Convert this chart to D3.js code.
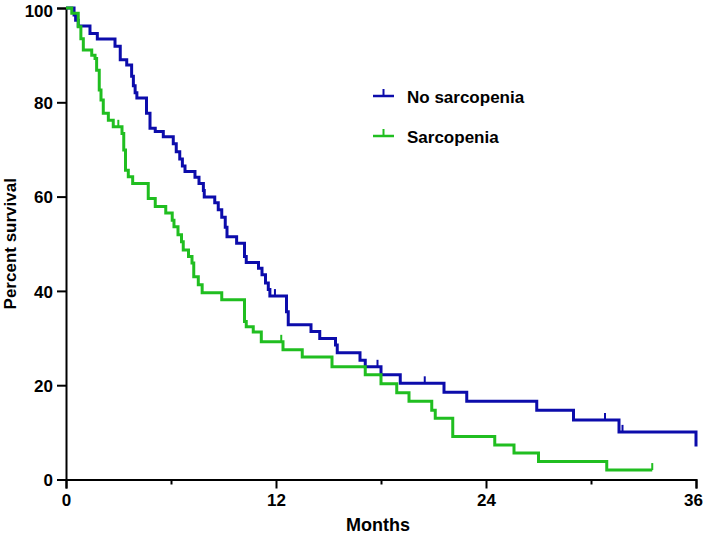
<!DOCTYPE html>
<html>
<head>
<meta charset="utf-8">
<script src="https://cdn.jsdelivr.net/npm/d3@7.9.0/dist/d3.min.js"></script>
<style>
  body { margin: 0; background: #fff; }
  svg { display: block; }
  text { font-family: "Liberation Sans", Arial, sans-serif; font-weight: bold; fill: #000; }
</style>
</head>
<body>
<svg id="chart" width="704" height="537"></svg>
<script>
// Kaplan-Meier steps: [month, percent surviving after the drop]
const noSarcSteps = [
  [0, 100], [0.46, 98.5], [0.55, 97.4], [0.7, 96.2], [1.37, 94.6], [1.79, 93.4],
  [2.8, 91.9], [3.1, 89], [3.47, 87.9], [3.75, 85.5], [3.85, 83.5], [3.95, 82],
  [4.05, 80.9], [4.6, 77.7], [4.8, 74.5], [5.1, 73.8], [5.56, 72.7], [6.13, 71.2],
  [6.3, 69.5], [6.5, 68.0], [6.65, 66.5], [6.8, 65.3], [7.37, 64.1], [7.6, 62.8],
  [7.85, 61.3], [7.9, 59.9], [8.5, 58.7], [8.7, 57.2], [8.9, 55.6], [9.1, 53.5],
  [9.2, 51.5], [9.75, 50.1], [10.2, 47.3], [10.3, 46.0], [11.0, 44.8], [11.2, 43.4],
  [11.4, 41.7], [11.56, 40.3], [11.65, 38.9], [12.6, 35.6], [12.7, 32.8], [14.0, 31.4],
  [14.5, 29.9], [15.4, 28.5], [15.5, 26.9], [16.8, 25.3], [17.1, 23.9], [18.0, 22.2],
  [19.1, 20.4], [21.6, 18.5], [22.9, 16.6], [26.9, 14.7], [29.0, 12.6], [31.6, 10.1],
  [36, 7.0]
];
const noSarcCensored = [[11.94, 38.9], [17.8, 23.9], [20.5, 20.4], [30.8, 12.6], [31.8, 10.1]];

const sarcSteps = [
  [0, 100], [0.33, 98.9], [0.7, 96], [0.85, 93.5], [0.99, 91.1], [1.47, 90.0],
  [1.66, 89.3], [1.75, 86.8], [1.9, 82.6], [2.0, 80.5], [2.13, 77.7], [2.42, 76.2],
  [2.7, 74.8], [3.2, 73.4], [3.3, 69.9], [3.4, 65.6], [3.56, 64.2], [3.81, 62.8],
  [4.7, 59.6], [5.1, 57.9], [5.7, 56.5], [6.07, 55.0], [6.17, 53.6], [6.4, 51.9],
  [6.6, 50.4], [6.7, 48.7], [7.0, 47.3], [7.2, 45.9], [7.3, 43.0], [7.56, 41.3],
  [7.78, 39.6], [8.9, 38.1], [10.2, 33.5], [10.3, 32.4], [10.7, 31.3], [11.16, 29.2],
  [12.4, 27.5], [13.5, 26.0], [15.2, 23.9], [17.1, 22.2], [18.0, 20.3], [18.9, 18.4],
  [19.6, 16.6], [20.9, 14.7], [21.1, 13.0], [22.1, 9.1], [24.5, 7.3], [25.6, 5.6],
  [27.0, 3.8], [30.9, 2.0], [33.5, 2.0]
];
const sarcCensored = [[2.99, 74.8], [12.3, 29.2], [33.5, 2.0]];

const groups = [
  { name: 'No sarcopenia', color: '#0c0cab', steps: noSarcSteps, censored: noSarcCensored },
  { name: 'Sarcopenia', color: '#20be20', steps: sarcSteps, censored: sarcCensored }
];

const xTicks = [0, 12, 24, 36];
const xMinorTicks = [6, 18, 30];
const yTicks = [0, 20, 40, 60, 80, 100];

const svg = d3.select('#chart');
const x = d3.scaleLinear().domain([0, 36]).range([66, 696]);
const y = d3.scaleLinear().domain([0, 100]).range([479.5, 8]);

// axes
const xAxis = svg.append('g').attr('transform', `translate(0,${y(0)})`)
  .call(d3.axisBottom(x).tickValues(xTicks).tickSize(9).tickPadding(5).tickFormat(d3.format('d')));
svg.append('g').attr('transform', `translate(0,${y(0)})`)
  .call(d3.axisBottom(x).tickValues(xMinorTicks).tickSize(5).tickFormat(''))
  .select('.domain').remove();
const yAxis = svg.append('g').attr('transform', `translate(${x(0)},0)`)
  .call(d3.axisLeft(y).tickValues(yTicks).tickSize(9).tickPadding(4));

svg.selectAll('.domain').attr('stroke', '#000').attr('stroke-width', 2);
svg.selectAll('.tick line').attr('stroke', '#000').attr('stroke-width', 2);
svg.selectAll('.tick text').attr('font-size', 17).attr('font-family', '"Liberation Sans", Arial, sans-serif').attr('font-weight', 'bold').attr('fill', '#000');
yAxis.selectAll('.tick text').attr('dy', '0.36em');
yAxis.selectAll('.tick text').filter(d => d === 100).attr('dy', '0.5em');
xAxis.selectAll('.tick text').filter(d => d === 36).attr('dx', -3);

// curves
const line = d3.line().x(d => x(d[0])).y(d => y(d[1])).curve(d3.curveStepAfter);

groups.forEach(g => {
  svg.append('path')
    .attr('d', line(g.steps))
    .attr('fill', 'none')
    .attr('stroke', g.color)
    .attr('stroke-width', 3);

  svg.append('g').selectAll('line')
    .data(g.censored)
    .join('line')
    .attr('x1', d => x(d[0])).attr('x2', d => x(d[0]))
    .attr('y1', d => y(d[1])).attr('y2', d => y(d[1]) - 7)
    .attr('stroke', g.color)
    .attr('stroke-width', 2);
});

// legend
const legend = svg.append('g').attr('transform', 'translate(373,96)');
groups.forEach((g, i) => {
  const row = legend.append('g').attr('transform', `translate(0,${i * 40})`);
  row.append('line').attr('x1', 0).attr('x2', 21).attr('y1', 0).attr('y2', 0)
    .attr('stroke', g.color).attr('stroke-width', 2.5);
  row.append('line').attr('x1', 10.5).attr('x2', 10.5).attr('y1', 0).attr('y2', -7)
    .attr('stroke', g.color).attr('stroke-width', 2);
  row.append('text').attr('x', 34).attr('y', 7).attr('font-size', 17).text(g.name);
});

// axis titles
svg.append('text')
  .attr('x', (x(0) + x(36)) / 2 - 3).attr('y', 531)
  .attr('text-anchor', 'middle').attr('font-size', 18)
  .text('Months');

svg.append('text')
  .attr('transform', `translate(16,${(y(0) + y(100)) / 2}) rotate(-90)`)
  .attr('text-anchor', 'middle').attr('font-size', 17)
  .text('Percent survival');
</script>
</body>
</html>
